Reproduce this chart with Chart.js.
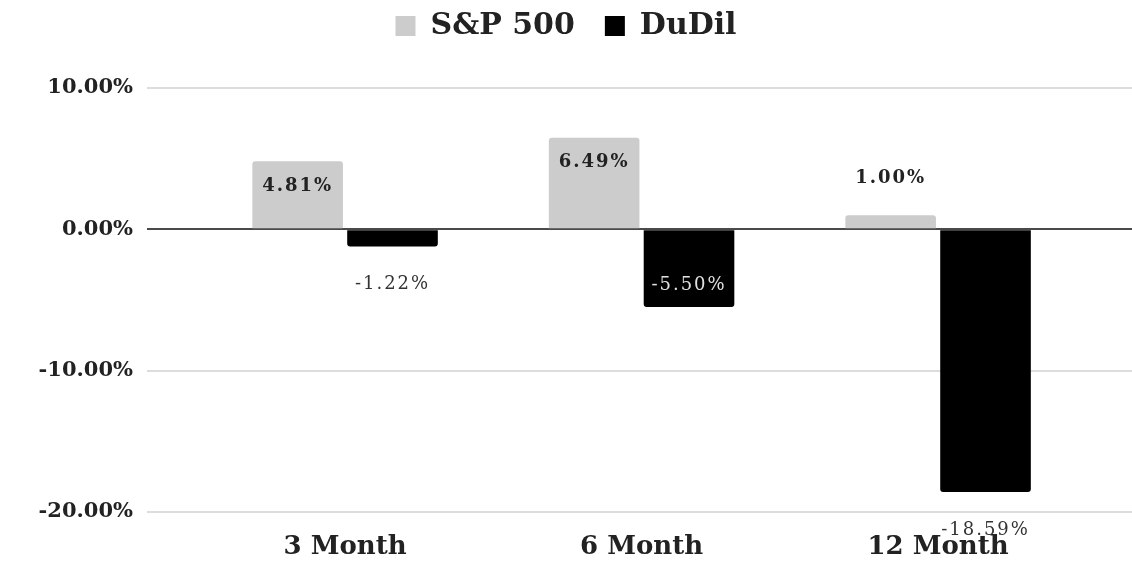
<!DOCTYPE html>
<html>
<head>
<meta charset="utf-8">
<script src="https://cdn.jsdelivr.net/npm/chart.js@4/dist/chart.umd.min.js"></script>
<style>
  html, body { margin: 0; padding: 0; background: #fff; }
  #wrap { width: 1132px; height: 562px; }
</style>
</head>
<body>
<div id="wrap"><canvas id="chart" width="1132" height="562"></canvas></div>
<script>
const categories = ['3 Month', '6 Month', '12 Month'];
const sp500 = [4.81, 6.49, 1.00];
const dudil = [-1.22, -5.50, -18.59];
const spInside = [true, true, false];
const duInside = [false, true, false];

Chart.defaults.font.family = "'DejaVu Serif', serif";
Chart.defaults.color = '#222';

const toPoints = (arr) => arr.map((v, i) => ({ x: i, y: v }));

// draws the value next to / inside each bar
const barLabels = {
  id: 'barLabels',
  afterDatasetsDraw(chart) {
    const ctx = chart.ctx;
    chart.data.datasets.forEach((ds, i) => {
      chart.getDatasetMeta(i).data.forEach((bar, j) => {
        const v = ds.data[j].y;
        const inside = ds.labelInside[j];
        let y;
        if (v >= 0) y = inside ? bar.y + 25 : bar.y - 37;
        else y = inside ? bar.y - 22 : bar.y + 38;
        ctx.save();
        ctx.textAlign = 'center';
        ctx.textBaseline = 'middle';
        if (i === 0) {
          ctx.font = "bold 18px 'DejaVu Serif'";
          ctx.letterSpacing = '2px';
          ctx.fillStyle = '#222';
        } else {
          ctx.font = "18px 'DejaVu Serif'";
          ctx.letterSpacing = '2px';
          ctx.fillStyle = inside ? '#e0e0e0' : '#333';
        }
        ctx.fillText(v.toFixed(2) + '%', bar.x, y);
        ctx.restore();
      });
    });
  }
};

new Chart(document.querySelector('#chart').getContext('2d'), {
  type: 'bar',
  data: {
    datasets: [
      {
        label: 'S&P 500',
        data: toPoints(sp500),
        backgroundColor: '#cccccc',
        borderRadius: 3,
        labelInside: spInside,
      },
      {
        label: 'DuDil',
        data: toPoints(dudil),
        backgroundColor: '#000000',
        borderRadius: 3,
        labelInside: duInside,
      },
    ],
  },
  options: {
    responsive: false,
    animation: false,
    categoryPercentage: 0.64,
    barPercentage: 0.955,
    layout: { padding: { top: -19, right: 0, bottom: 0, left: 0 } },
    plugins: {
      tooltip: { enabled: false },
      legend: {
        position: 'top',
        labels: {
          boxWidth: 20,
          boxHeight: 20,
          padding: 30,
          color: '#222',
          font: { size: 30, weight: 'bold' },
        },
      },
    },
    scales: {
      x: {
        type: 'linear',
        offset: false,
        min: -0.668,
        max: 2.654,
        grid: { display: false, drawTicks: false },
        border: { display: false },
        ticks: {
          stepSize: 1,
          includeBounds: false,
          autoSkip: false,
          maxRotation: 0,
          padding: 20,
          color: '#222',
          font: { size: 26, weight: 'bold' },
          callback: (v) => (Number.isInteger(v) ? categories[v] : ''),
        },
        afterFit: (s) => { s.height = 50; },
      },
      y: {
        min: -20,
        max: 12.62,
        border: { display: false },
        grid: {
          drawTicks: false,
          lineWidth: 2,
          color: (c) => (c.tick && c.tick.value === 0 ? '#4a4a4a' : '#dcdcdc'),
        },
        ticks: {
          stepSize: 10,
          includeBounds: false,
          padding: 14,
          color: '#222',
          font: { size: 21, weight: 'bold' },
          callback: (v) => v.toFixed(2) + '%',
        },
        afterFit: (s) => { s.width = 147; },
      },
    },
  },
  plugins: [barLabels],
});
</script>
</body>
</html>
